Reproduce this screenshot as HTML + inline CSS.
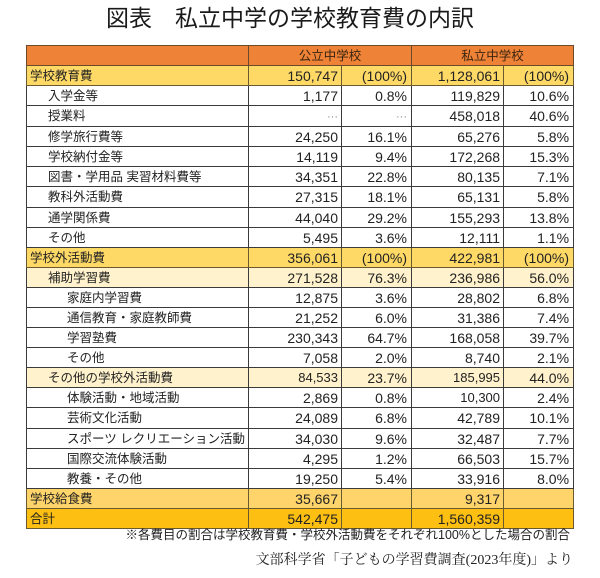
<!DOCTYPE html>
<html>
<head>
<meta charset="utf-8">
<style>
  html,body{margin:0;padding:0;background:#fff;}
  body{width:600px;height:578px;position:relative;overflow:hidden;
       font-family:"Liberation Sans","Noto Sans CJK JP",sans-serif;color:#222;}
  .title{position:absolute;left:106px;top:3px;white-space:nowrap;
         font-family:"Liberation Sans","Noto Sans CJK JP",sans-serif;
         font-size:23px;line-height:30px;color:#1a1a1a;letter-spacing:0;}
  table{position:absolute;left:26px;top:45px;border-collapse:collapse;table-layout:fixed;width:548px;}
  td{border:1px solid #3a3a3a;padding:0 3px;height:19px;line-height:18px;
     font-size:14px;white-space:nowrap;overflow:hidden;vertical-align:middle;}
  tr.t21 td{height:20px;}
  td.l{font-size:12.5px;}
  td.l1{padding-left:21px;}
  td.l2{padding-left:40px;}
  td.n{text-align:right;padding-right:3px;}
  td.p{text-align:right;padding-right:4px;}
  tr.hd td{background:#EE8236;color:#3a2410;text-align:center;font-size:12.5px;border-color:#6b4a2a;}
  tr.y td{background:#FFD966;border-color:#6b5a30;}
  tr.lt td{background:#FFF2CC;}
  tr.g td{background:#FFD46A;border-color:#6b5a30;}
  tr.tot td{background:#FDBF12;border-color:#6b5a30;}
  .dots{color:#888;font-size:11px;}
  .sm{font-size:13px;}
  .fn1{position:absolute;right:30px;top:527px;font-size:12.5px;line-height:16px;white-space:nowrap;color:#222;
       font-family:"Liberation Sans","Noto Sans CJK JP",sans-serif;}
  .fn2{position:absolute;right:27px;top:552px;font-size:14px;line-height:18px;white-space:nowrap;color:#222;
       font-family:"Liberation Serif","Noto Serif CJK SC",serif;}
</style>
</head>
<body>
<div class="title">図表　私立中学の学校教育費の内訳</div>
<table>
  <colgroup>
    <col style="width:222px"><col style="width:93px"><col style="width:70px"><col style="width:92px"><col style="width:70px">
  </colgroup>
  <tr class="hd"><td></td><td colspan="2">公立中学校</td><td colspan="2">私立中学校</td></tr>
  <tr class="y"><td class="l">学校教育費</td><td class="n">150,747</td><td class="p">(100%)</td><td class="n">1,128,061</td><td class="p">(100%)</td></tr>
  <tr><td class="l l1">入学金等</td><td class="n">1,177</td><td class="p">0.8%</td><td class="n">119,829</td><td class="p">10.6%</td></tr>
  <tr><td class="l l1">授業料</td><td class="n"><span class="dots">···</span></td><td class="p"><span class="dots">···</span></td><td class="n">458,018</td><td class="p">40.6%</td></tr>
  <tr><td class="l l1">修学旅行費等</td><td class="n">24,250</td><td class="p">16.1%</td><td class="n">65,276</td><td class="p">5.8%</td></tr>
  <tr><td class="l l1">学校納付金等</td><td class="n">14,119</td><td class="p">9.4%</td><td class="n">172,268</td><td class="p">15.3%</td></tr>
  <tr><td class="l l1">図書・学用品 実習材料費等</td><td class="n">34,351</td><td class="p">22.8%</td><td class="n">80,135</td><td class="p">7.1%</td></tr>
  <tr class="t21"><td class="l l1">教科外活動費</td><td class="n">27,315</td><td class="p">18.1%</td><td class="n">65,131</td><td class="p">5.8%</td></tr>
  <tr><td class="l l1">通学関係費</td><td class="n">44,040</td><td class="p">29.2%</td><td class="n">155,293</td><td class="p">13.8%</td></tr>
  <tr><td class="l l1">その他</td><td class="n">5,495</td><td class="p">3.6%</td><td class="n">12,111</td><td class="p">1.1%</td></tr>
  <tr class="y"><td class="l">学校外活動費</td><td class="n">356,061</td><td class="p">(100%)</td><td class="n">422,981</td><td class="p">(100%)</td></tr>
  <tr class="lt"><td class="l l1">補助学習費</td><td class="n">271,528</td><td class="p">76.3%</td><td class="n">236,986</td><td class="p">56.0%</td></tr>
  <tr><td class="l l2">家庭内学習費</td><td class="n">12,875</td><td class="p">3.6%</td><td class="n">28,802</td><td class="p">6.8%</td></tr>
  <tr><td class="l l2">通信教育・家庭教師費</td><td class="n">21,252</td><td class="p">6.0%</td><td class="n">31,386</td><td class="p">7.4%</td></tr>
  <tr><td class="l l2">学習塾費</td><td class="n">230,343</td><td class="p">64.7%</td><td class="n">168,058</td><td class="p">39.7%</td></tr>
  <tr><td class="l l2">その他</td><td class="n">7,058</td><td class="p">2.0%</td><td class="n">8,740</td><td class="p">2.1%</td></tr>
  <tr class="lt"><td class="l l1">その他の学校外活動費</td><td class="n"><span class="sm">84,533</span></td><td class="p">23.7%</td><td class="n"><span class="sm">185,995</span></td><td class="p">44.0%</td></tr>
  <tr><td class="l l2">体験活動・地域活動</td><td class="n">2,869</td><td class="p">0.8%</td><td class="n"><span class="sm">10,300</span></td><td class="p">2.4%</td></tr>
  <tr class="t21"><td class="l l2">芸術文化活動</td><td class="n">24,089</td><td class="p">6.8%</td><td class="n">42,789</td><td class="p">10.1%</td></tr>
  <tr><td class="l l2">スポーツ レクリエーション活動</td><td class="n">34,030</td><td class="p">9.6%</td><td class="n">32,487</td><td class="p">7.7%</td></tr>
  <tr><td class="l l2">国際交流体験活動</td><td class="n">4,295</td><td class="p">1.2%</td><td class="n">66,503</td><td class="p">15.7%</td></tr>
  <tr><td class="l l2">教養・その他</td><td class="n">19,250</td><td class="p">5.4%</td><td class="n">33,916</td><td class="p">8.0%</td></tr>
  <tr class="g"><td class="l">学校給食費</td><td class="n">35,667</td><td class="p"></td><td class="n">9,317</td><td class="p"></td></tr>
  <tr class="tot"><td class="l">合計</td><td class="n">542,475</td><td class="p"></td><td class="n">1,560,359</td><td class="p"></td></tr>
</table>
<div class="fn1">※各費目の割合は学校教育費・学校外活動費をそれぞれ100%とした場合の割合</div>
<div class="fn2">文部科学省「子どもの学習費調査(2023年度)」より</div>
</body>
</html>
